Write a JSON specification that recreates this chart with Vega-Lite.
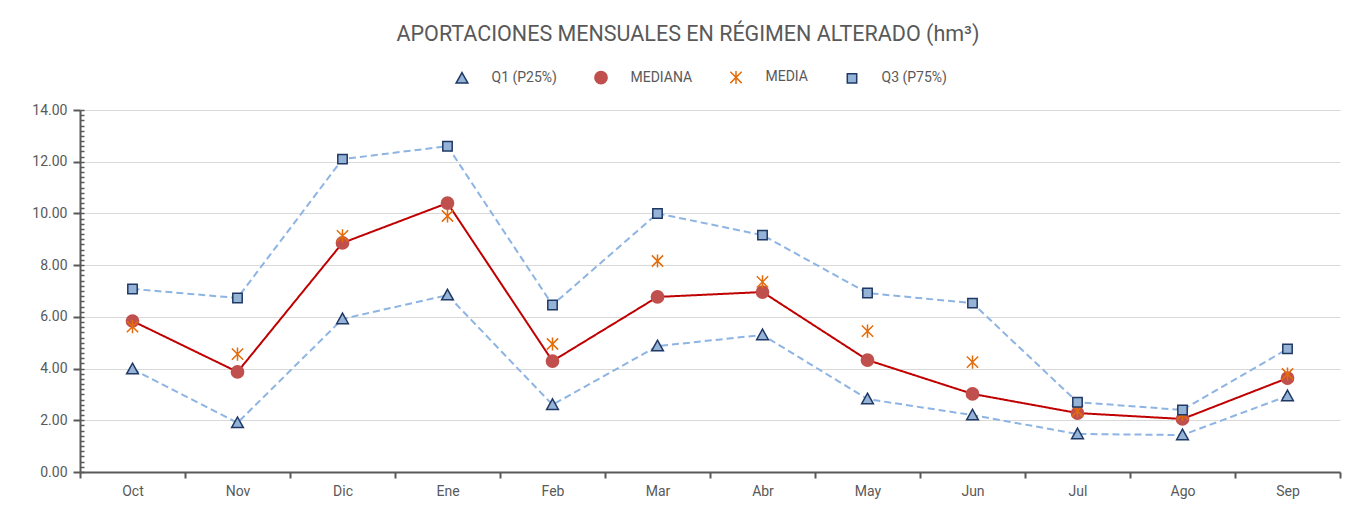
{
  "$schema": "https://vega.github.io/schema/vega-lite/v6.json",
  "width": 1260,
  "height": 362,
  "autosize": {"type": "none"},
  "padding": {"left": 80, "top": 110, "right": 27, "bottom": 40},
  "background": "white",
  "title": {
    "text": "APORTACIONES MENSUALES EN RÉGIMEN ALTERADO (hm³)",
    "font": "Roboto",
    "fontSize": 21.5,
    "fontWeight": "normal",
    "color": "#595959",
    "anchor": "middle",
    "dx": -22,
    "offset": -4,
    "baseline": "middle"
  },
  "config": {
    "font": "Roboto",
    "view": {"stroke": null},
    "axis": {"labelFont": "Roboto", "labelColor": "#595959", "labelFontSize": 14}
  },
  "data": {
    "values": [
      {"mes": "Oct", "Q1": 3.98, "MEDIANA": 5.84, "MEDIA": 5.62, "Q3": 7.08},
      {"mes": "Nov", "Q1": 1.9, "MEDIANA": 3.87, "MEDIA": 4.56, "Q3": 6.73},
      {"mes": "Dic", "Q1": 5.92, "MEDIANA": 8.86, "MEDIA": 9.13, "Q3": 12.1},
      {"mes": "Ene", "Q1": 6.84, "MEDIANA": 10.4, "MEDIA": 9.9, "Q3": 12.6},
      {"mes": "Feb", "Q1": 2.6, "MEDIANA": 4.29, "MEDIA": 4.95, "Q3": 6.46},
      {"mes": "Mar", "Q1": 4.87, "MEDIANA": 6.77, "MEDIA": 8.16, "Q3": 10.0},
      {"mes": "Abr", "Q1": 5.3, "MEDIANA": 6.96, "MEDIA": 7.35, "Q3": 9.16},
      {"mes": "May", "Q1": 2.82, "MEDIANA": 4.33, "MEDIA": 5.45, "Q3": 6.92},
      {"mes": "Jun", "Q1": 2.2, "MEDIANA": 3.02, "MEDIA": 4.25, "Q3": 6.53},
      {"mes": "Jul", "Q1": 1.47, "MEDIANA": 2.28, "MEDIA": 2.36, "Q3": 2.7},
      {"mes": "Ago", "Q1": 1.43, "MEDIANA": 2.05, "MEDIA": 2.24, "Q3": 2.4},
      {"mes": "Sep", "Q1": 2.94, "MEDIANA": 3.63, "MEDIA": 3.79, "Q3": 4.76}
    ]
  },
  "resolve": {"axis": {"y": "independent"}},
  "layer": [
    {
      "transform": [{"fold": ["Q1", "MEDIANA", "Q3"], "as": ["key", "value"]}],
      "mark": {"type": "line", "strokeWidth": 2},
      "encoding": {
        "x": {
          "field": "mes", "type": "nominal", "sort": null,
          "scale": {"paddingInner": 0, "paddingOuter": 0},
          "axis": {"title": null, "labelAngle": 0, "tickBand": "extent", "domainColor": "#595959", "domainWidth": 2, "tickColor": "#595959", "tickWidth": 2, "tickSize": 6, "labelPadding": 6, "grid": false}
        },
        "y": {
          "field": "value", "type": "quantitative",
          "scale": {"domain": [0, 14], "nice": false, "zero": true},
          "axis": {"title": null, "values": [0, 2, 4, 6, 8, 10, 12, 14], "format": ".2f", "domainColor": "#595959", "domainWidth": 2, "tickColor": "#595959", "tickWidth": 2, "tickSize": 7, "labelPadding": 6, "gridColor": "#d9d9d9", "gridWidth": 1.2, "orient": "left"}
        },
        "detail": {"field": "key"},
        "color": {
          "field": "key", "type": "nominal",
          "scale": {"domain": ["Q1", "MEDIANA", "Q3"], "range": ["#8db4e2", "#c00000", "#8db4e2"]},
          "legend": null
        },
        "strokeDash": {
          "field": "key", "type": "nominal",
          "scale": {"domain": ["Q1", "MEDIANA", "Q3"], "range": [[7, 4], [1, 0], [7, 4]]},
          "legend": null
        }
      }
    },
    {
      "transform": [{"fold": ["Q1", "MEDIANA", "MEDIA", "Q3"], "as": ["serie", "valor"]}],
      "mark": {"type": "point", "size": 2209, "opacity": 1, "strokeWidth": 1.5},
      "encoding": {
        "x": {"field": "mes", "type": "nominal", "sort": null},
        "y": {
          "field": "valor", "type": "quantitative",
          "axis": {"orient": "left", "values": [0,0.2,0.4,0.6,0.8,1,1.2,1.4,1.6,1.8,2,2.2,2.4,2.6,2.8,3,3.2,3.4,3.6,3.8,4,4.2,4.4,4.6,4.8,5,5.2,5.4,5.6,5.8,6,6.2,6.4,6.6,6.8,7,7.2,7.4,7.6,7.8,8,8.2,8.4,8.6,8.8,9,9.2,9.4,9.6,9.8,10,10.2,10.4,10.6,10.8,11,11.2,11.4,11.6,11.8,12,12.2,12.4,12.6,12.8,13,13.2,13.4,13.6,13.8,14], "labels": false, "domain": false, "grid": false, "title": null, "tickSize": -4, "tickColor": "#595959", "tickWidth": 1.5}
        },
        "shape": {
          "field": "serie", "type": "nominal",
          "scale": {"domain": ["Q1", "MEDIANA", "MEDIA", "Q3"], "range": [
            "M0,-0.25L0.25,0.2L-0.25,0.2Z",
            "M0.26,0A0.26,0.26 0 1,1 -0.26,0A0.26,0.26 0 1,1 0.26,0Z",
            "M-0.24,-0.24L0.24,0.24M-0.24,0.24L0.24,-0.24M0,-0.28L0,0.28",
            "M-0.2,-0.2L0.2,-0.2L0.2,0.2L-0.2,0.2Z"
          ]},
          "legend": {
            "orient": "none", "legendX": 357.5, "legendY": -57.5, "direction": "horizontal", "title": null,
            "symbolSize": 2209, "symbolStrokeWidth": 1.5, "labelOffset": 5,
            "columnPadding": 19, "padding": 0, "labelFontSize": 14, "labelColor": "#595959",
            "labelFont": "Roboto",
            "labelExpr": "datum.label == 'Q1' ? 'Q1 (P25%)' : datum.label == 'Q3' ? 'Q3 (P75%)' : datum.label"
          }
        },
        "fill": {
          "field": "serie", "type": "nominal",
          "scale": {"domain": ["Q1", "MEDIANA", "MEDIA", "Q3"], "range": ["#95b3d7", "#c0504d", "transparent", "#95b3d7"]}
        },
        "stroke": {
          "field": "serie", "type": "nominal",
          "scale": {"domain": ["Q1", "MEDIANA", "MEDIA", "Q3"], "range": ["#1f3864", "#c0504d", "#e46c0a", "#1f3864"]}
        }
      }
    }
  ]
}
